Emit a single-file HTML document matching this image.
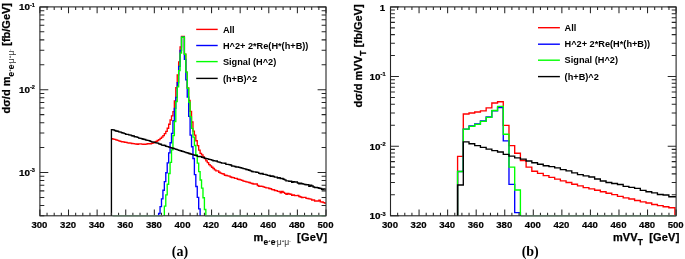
<!DOCTYPE html>
<html lang="en">
<head>
<meta charset="utf-8">
<title>Invariant mass distributions</title>
<style>
html,body{margin:0;padding:0;background:#fff;}
body{width:685px;height:259px;overflow:hidden;}
svg{display:block;}
</style>
</head>
<body>
<svg width="685" height="259" viewBox="0 0 685 259" role="img" aria-label="Invariant mass distributions">
<rect width="685" height="259" fill="#fff"/>
<path d="M111.43 138.79H112.86V139.11H114.29V139.41H115.72V139.93H117.15V140.36H118.58V140.88H120.01V141.33H121.44V141.75H122.87V141.94H124.3V142.28H125.73V142.3H127.16V142.83H128.59V142.98H130.02V143.11H131.45V143.47H132.88V143.56H134.31V143.84H135.74V144.01H137.17V144.21H138.6V143.82H140.03V143.93H141.47V144.17H142.9V144.28H144.33V144.28H145.76V144.1H147.19V143.68H148.62V143.82H150.05V143.77H151.48V143.24H152.91V142.86H154.34V142.17H155.77V141.33H157.2V140.54H158.63V139.66H160.06V138.4H161.49V137.16H162.92V135.67H164.35V133.61H165.78V131.37H167.21V128.28H168.65V124.25H170.08V120.02H171.51V115.87H172.94V111.57H174.37V101H175.8V87.77H177.23V74.83H178.66V61.93H180.09V46.87H181.52V36.3H182.95V36.3H184.38V54.22H185.81V72.13H187.24V87.85H188.67V100.45H190.1V111.41H191.53V122.02H192.96V131.1H194.39V135.06H195.82V140.78H197.26V145.58H198.69V150.16H200.12V153.34H201.55V154.94H202.98V156.97H204.41V158.66H205.84V160.87H207.27V162.62H208.7V164.65H210.13V165.92H211.56V167.22H212.99V168.47H214.42V169.92H215.85V170.83H217.28V170.85H218.71V172.24H220.14V173.09H221.57V173.59H223V174.03H224.43V175.25H225.87V175.51H227.3V175.85H228.73V176.14H230.16V177H231.59V177.51H233.02V177.59H234.45V178.32H235.88V178.33H237.31V179.28H238.74V179.52H240.17V179.89H241.6V180.34H243.03V181.05H244.46V181.44H245.89V181.81H247.32V182.13H248.75V182.54H250.18V183.13H251.61V183.45H253.04V184.02H254.47V184.13H255.91V183.88H257.34V185.47H258.77V186.31H260.2V186.17H261.63V186.43H263.06V186.87H264.49V187.32H265.92V187.82H267.35V187.85H268.78V188.52H270.21V188.76H271.64V189.61H273.07V189.78H274.5V190.47H275.93V190.59H277.36V191.44H278.79V191.51H280.22V192.7H281.65V191.4H283.09V192.3H284.52V193.33H285.95V194.38H287.38V193.53H288.81V194H290.24V194.23H291.67V195.27H293.1V194.88H294.53V195.67H295.96V195.55H297.39V195.45H298.82V196.54H300.25V196.97H301.68V197.69H303.11V197.35H304.54V197.44H305.97V198.36H307.4V198.54H308.83V198.9H310.26V199.06H311.69V200.04H313.13V199.97H314.56V201.11H315.99V201.04H317.42V201.14H318.85V200.25H320.28V201.8H321.71V202.04H323.14V202.59H324.57V203.07H326" fill="none" stroke="#ff0000" stroke-width="1.35" stroke-linejoin="miter" stroke-linecap="butt"/>
<path d="M158.63 215.8V213.46H160.06V206.58H161.49V198.87H162.92V190.29H164.35V181.58H165.78V172.75H167.21V162.86H168.65V152.88H170.08V142.76H171.51V133.39H172.94V120.77H174.37V108.31H175.8V97.44H177.23V82.61H178.66V66.42H180.09V50.37H181.52V37.2H182.95V37.2H184.38V59.41H185.81V79.79H187.24V97.14H188.67V116.34H190.1V135.07H191.53V146.7H192.96V158.5H194.39V174.68H195.82V186.49H197.26V197.34H198.69V208.92H200.12V215.8" fill="none" stroke="#0000ff" stroke-width="1.35" stroke-linejoin="miter" stroke-linecap="butt"/>
<path d="M164.35 215.8V206.15H165.78V194.91H167.21V184.2H168.65V173.49H170.08V162.41H171.51V149.84H172.94V135.49H174.37V121.45H175.8V101.55H177.23V86.84H178.66V70.59H180.09V53.11H181.52V37.2H182.95V37.2H184.38V54.22H185.81V72.13H187.24V88.25H188.67V102.18H190.1V116.94H191.53V128.37H192.96V137.13H194.39V145.47H195.82V154.68H197.26V163.16H198.69V171.6H200.12V179.97H201.55V188.11H202.98V197.7H204.41V209.45H205.84V215.8" fill="none" stroke="#00ff00" stroke-width="1.35" stroke-linejoin="miter" stroke-linecap="butt"/>
<path d="M111.43 215.8V129.79H112.86V129.85H114.29V130.54H115.72V130.97H117.15V131.29H118.58V131.85H120.01V132.05H121.44V132.76H122.87V133.18H124.3V133.58H125.73V134.31H127.16V134.44H128.59V134.83H130.02V135.14H131.45V135.72H132.88V135.97H134.31V136.71H135.74V136.87H137.17V137.41H138.6V138.09H140.03V138.41H141.47V138.71H142.9V139.29H144.33V139.52H145.76V140.07H147.19V140.39H148.62V140.69H150.05V141.3H151.48V141.8H152.91V142.05H154.34V142.39H155.77V142.92H157.2V143.12H158.63V143.82H160.06V144.22H161.49V145.11H162.92V145.2H164.35V145.52H165.78V146.31H167.21V146.62H168.65V147.11H170.08V147.56H171.51V148.02H172.94V148.47H174.37V148.93H175.8V149.39H177.23V149.84H178.66V150.3H180.09V150.75H181.52V151.21H182.95V151.67H184.38V152.12H185.81V152.58H187.24V153.04H188.67V153.49H190.1V153.95H191.53V154.41H192.96V154.86H194.39V155.27H195.82V155.67H197.26V156.35H198.69V156.53H200.12V156.63H201.55V157.21H202.98V157.46H204.41V158.21H205.84V158.69H207.27V158.8H208.7V159.38H210.13V159.64H211.56V160.15H212.99V160.79H214.42V160.81H215.85V161.04H217.28V161.82H218.71V162.18H220.14V162.62H221.57V163.1H223V163.13H224.43V163.24H225.87V164.32H227.3V164.39H228.73V164.6H230.16V165H231.59V165.96H233.02V166.11H234.45V166.53H235.88V167.05H237.31V167.04H238.74V167.3H240.17V167.75H241.6V168.06H243.03V168.67H244.46V168.88H245.89V169.53H247.32V169.76H248.75V170.26H250.18V170.87H251.61V171.5H253.04V171.94H254.47V171.86H255.91V172.28H257.34V172.42H258.77V173.32H260.2V173.88H261.63V173.54H263.06V174.4H264.49V174.4H265.92V174.83H267.35V175.35H268.78V175.52H270.21V176.37H271.64V175.82H273.07V176.48H274.5V177.06H275.93V177.06H277.36V177.97H278.79V177.57H280.22V178.57H281.65V178.31H283.09V179.2H284.52V179.84H285.95V180.92H287.38V180.81H288.81V181.41H290.24V181.09H291.67V182.36H293.1V181.67H294.53V182.02H295.96V181.9H297.39V182.96H298.82V183.71H300.25V183.27H301.68V183.75H303.11V184.06H304.54V184.48H305.97V184.71H307.4V184.69H308.83V186.42H310.26V185.07H311.69V185.96H313.13V186.98H314.56V187.69H315.99V187.41H317.42V187.72H318.85V188.26H320.28V188.45H321.71V189.43H323.14V189.04H324.57V189.12H326" fill="none" stroke="#000000" stroke-width="1.35" stroke-linejoin="miter" stroke-linecap="butt"/>
<path d="M457.59 215.8V156.4H463.3V114H469.01V113H474.72V112H480.43V110.8H486.14V107.9H491.85V103H497.56V101.7H503.27V125.4H508.98V145.6H514.69V153.2H520.4V160.5H526.11V167.1H531.82V171.2H537.53V173.4H543.24V175.6H548.95V177.4H554.66V179.1H560.37V180.8H566.08V182.5H571.79V184.2H577.5V185.9H583.21V187.6H588.92V188.8H594.63V190.2H600.34V191.7H606.05V193.2H611.76V194.6H617.47V196.4H623.18V197.9H628.89V199H634.6V200.5H640.31V201.8H646.02V203H651.73V204.5H657.44V205.6H663.15V206.7H668.86V207.7H674.9V215.8" fill="none" stroke="#ff0000" stroke-width="1.35" stroke-linejoin="miter" stroke-linecap="butt"/>
<path d="M457.59 215.8V171.5H463.3V129.1H469.01V125.9H474.72V123.8H480.43V121H486.14V117H491.85V110.7H497.56V107.5H503.27V140.8H508.98V184.4H514.69V212.6H520.4V215.8" fill="none" stroke="#0000ff" stroke-width="1.35" stroke-linejoin="miter" stroke-linecap="butt"/>
<path d="M457.59 215.8V171.5H463.3V129.1H469.01V126.4H474.72V124.3H480.43V121.4H486.14V117.3H491.85V110.5H497.56V106.4H503.27V134.2H508.98V167.1H514.69V190H520.4V215.8" fill="none" stroke="#00ff00" stroke-width="1.35" stroke-linejoin="miter" stroke-linecap="butt"/>
<path d="M457.59 215.8V185H463.3V141.8H469.01V143.7H474.72V145.6H480.43V147.3H486.14V149.1H491.85V150.6H497.56V152H503.27V154.4H508.98V156.1H514.69V157.9H520.4V159.1H526.11V161H531.82V162.7H537.53V164.2H543.24V165.7H548.95V166.6H554.66V167.8H560.37V169.6H566.08V170.8H571.79V172.8H577.5V174.6H583.21V175.8H588.92V177H594.63V179H600.34V181H606.05V182.5H611.76V183.5H617.47V184.5H623.18V186.4H628.89V187.3H634.6V188.4H640.31V190.4H646.02V191.7H651.73V192.8H657.44V194.5H663.15V195H668.86V196.7H676" fill="none" stroke="#000000" stroke-width="1.35" stroke-linejoin="miter" stroke-linecap="butt"/>
<g stroke="#262626" stroke-width="1.05" fill="none" stroke-linecap="butt">
<rect x="39.9" y="6.9" width="286.1" height="208.9" stroke-width="1.1"/>
<path d="M39.9 215.8v-6.4M39.9 6.9v6.4M47.05 215.8v-3M47.05 6.9v3M54.2 215.8v-3M54.2 6.9v3M61.36 215.8v-3M61.36 6.9v3M68.51 215.8v-6.4M68.51 6.9v6.4M75.66 215.8v-3M75.66 6.9v3M82.81 215.8v-3M82.81 6.9v3M89.97 215.8v-3M89.97 6.9v3M97.12 215.8v-6.4M97.12 6.9v6.4M104.27 215.8v-3M104.27 6.9v3M111.43 215.8v-3M111.43 6.9v3M118.58 215.8v-3M118.58 6.9v3M125.73 215.8v-6.4M125.73 6.9v6.4M132.88 215.8v-3M132.88 6.9v3M140.03 215.8v-3M140.03 6.9v3M147.19 215.8v-3M147.19 6.9v3M154.34 215.8v-6.4M154.34 6.9v6.4M161.49 215.8v-3M161.49 6.9v3M168.65 215.8v-3M168.65 6.9v3M175.8 215.8v-3M175.8 6.9v3M182.95 215.8v-6.4M182.95 6.9v6.4M190.1 215.8v-3M190.1 6.9v3M197.26 215.8v-3M197.26 6.9v3M204.41 215.8v-3M204.41 6.9v3M211.56 215.8v-6.4M211.56 6.9v6.4M218.71 215.8v-3M218.71 6.9v3M225.87 215.8v-3M225.87 6.9v3M233.02 215.8v-3M233.02 6.9v3M240.17 215.8v-6.4M240.17 6.9v6.4M247.32 215.8v-3M247.32 6.9v3M254.47 215.8v-3M254.47 6.9v3M261.63 215.8v-3M261.63 6.9v3M268.78 215.8v-6.4M268.78 6.9v6.4M275.93 215.8v-3M275.93 6.9v3M283.09 215.8v-3M283.09 6.9v3M290.24 215.8v-3M290.24 6.9v3M297.39 215.8v-6.4M297.39 6.9v6.4M304.54 215.8v-3M304.54 6.9v3M311.69 215.8v-3M311.69 6.9v3M318.85 215.8v-3M318.85 6.9v3M326 215.8v-6.4M326 6.9v6.4M39.9 215.8h4.4M326 215.8h-4.4M39.9 205.45h4.4M326 205.45h-4.4M39.9 197.43h4.4M326 197.43h-4.4M39.9 190.87h4.4M326 190.87h-4.4M39.9 185.33h4.4M326 185.33h-4.4M39.9 180.53h4.4M326 180.53h-4.4M39.9 176.29h4.4M326 176.29h-4.4M39.9 172.5h8.4M326 172.5h-8.4M39.9 147.58h4.4M326 147.58h-4.4M39.9 133h4.4M326 133h-4.4M39.9 122.65h4.4M326 122.65h-4.4M39.9 114.63h4.4M326 114.63h-4.4M39.9 108.07h4.4M326 108.07h-4.4M39.9 102.53h4.4M326 102.53h-4.4M39.9 97.73h4.4M326 97.73h-4.4M39.9 93.49h4.4M326 93.49h-4.4M39.9 89.7h8.4M326 89.7h-8.4M39.9 64.78h4.4M326 64.78h-4.4M39.9 50.2h4.4M326 50.2h-4.4M39.9 39.85h4.4M326 39.85h-4.4M39.9 31.83h4.4M326 31.83h-4.4M39.9 25.27h4.4M326 25.27h-4.4M39.9 19.73h4.4M326 19.73h-4.4M39.9 14.92h4.4M326 14.92h-4.4M39.9 10.69h4.4M326 10.69h-4.4M39.9 6.9h8.4M326 6.9h-8.4"/>
</g>
<g stroke="#262626" stroke-width="1.05" fill="none" stroke-linecap="butt">
<rect x="390.5" y="6.9" width="285.6" height="208.9" stroke-width="1.1"/>
<path d="M390.5 215.8v-6.4M390.5 6.9v6.4M397.64 215.8v-3M397.64 6.9v3M404.78 215.8v-3M404.78 6.9v3M411.92 215.8v-3M411.92 6.9v3M419.06 215.8v-6.4M419.06 6.9v6.4M426.2 215.8v-3M426.2 6.9v3M433.34 215.8v-3M433.34 6.9v3M440.48 215.8v-3M440.48 6.9v3M447.62 215.8v-6.4M447.62 6.9v6.4M454.76 215.8v-3M454.76 6.9v3M461.9 215.8v-3M461.9 6.9v3M469.04 215.8v-3M469.04 6.9v3M476.18 215.8v-6.4M476.18 6.9v6.4M483.32 215.8v-3M483.32 6.9v3M490.46 215.8v-3M490.46 6.9v3M497.6 215.8v-3M497.6 6.9v3M504.74 215.8v-6.4M504.74 6.9v6.4M511.88 215.8v-3M511.88 6.9v3M519.02 215.8v-3M519.02 6.9v3M526.16 215.8v-3M526.16 6.9v3M533.3 215.8v-6.4M533.3 6.9v6.4M540.44 215.8v-3M540.44 6.9v3M547.58 215.8v-3M547.58 6.9v3M554.72 215.8v-3M554.72 6.9v3M561.86 215.8v-6.4M561.86 6.9v6.4M569 215.8v-3M569 6.9v3M576.14 215.8v-3M576.14 6.9v3M583.28 215.8v-3M583.28 6.9v3M590.42 215.8v-6.4M590.42 6.9v6.4M597.56 215.8v-3M597.56 6.9v3M604.7 215.8v-3M604.7 6.9v3M611.84 215.8v-3M611.84 6.9v3M618.98 215.8v-6.4M618.98 6.9v6.4M626.12 215.8v-3M626.12 6.9v3M633.26 215.8v-3M633.26 6.9v3M640.4 215.8v-3M640.4 6.9v3M647.54 215.8v-6.4M647.54 6.9v6.4M654.68 215.8v-3M654.68 6.9v3M661.82 215.8v-3M661.82 6.9v3M668.96 215.8v-3M668.96 6.9v3M676.1 215.8v-6.4M676.1 6.9v6.4M390.5 215.8h8.4M676.1 215.8h-8.4M390.5 194.84h4.4M676.1 194.84h-4.4M390.5 182.58h4.4M676.1 182.58h-4.4M390.5 173.88h4.4M676.1 173.88h-4.4M390.5 167.13h4.4M676.1 167.13h-4.4M390.5 161.61h4.4M676.1 161.61h-4.4M390.5 156.95h4.4M676.1 156.95h-4.4M390.5 152.91h4.4M676.1 152.91h-4.4M390.5 149.35h4.4M676.1 149.35h-4.4M390.5 146.17h8.4M676.1 146.17h-8.4M390.5 125.2h4.4M676.1 125.2h-4.4M390.5 112.94h4.4M676.1 112.94h-4.4M390.5 104.24h4.4M676.1 104.24h-4.4M390.5 97.5h4.4M676.1 97.5h-4.4M390.5 91.98h4.4M676.1 91.98h-4.4M390.5 87.32h4.4M676.1 87.32h-4.4M390.5 83.28h4.4M676.1 83.28h-4.4M390.5 79.72h4.4M676.1 79.72h-4.4M390.5 76.53h8.4M676.1 76.53h-8.4M390.5 55.57h4.4M676.1 55.57h-4.4M390.5 43.31h4.4M676.1 43.31h-4.4M390.5 34.61h4.4M676.1 34.61h-4.4M390.5 27.86h4.4M676.1 27.86h-4.4M390.5 22.35h4.4M676.1 22.35h-4.4M390.5 17.69h4.4M676.1 17.69h-4.4M390.5 13.65h4.4M676.1 13.65h-4.4M390.5 10.09h4.4M676.1 10.09h-4.4M390.5 6.9h8.4M676.1 6.9h-8.4"/>
</g>
<path d="M112.5 215.8H163" stroke="#5d7864" stroke-width="1.35" fill="none"/>
<path d="M205 215.8H325.4" stroke="#5d7864" stroke-width="1.35" fill="none"/>
<path d="M521 215.8H675.5" stroke="#5d7864" stroke-width="1.35" fill="none"/>
<g font-family='"Liberation Sans", sans-serif' font-weight="bold" font-size="9.6" text-anchor="middle" fill="#000" stroke="#000" stroke-width="0.2">
<text x="39.45" y="227.75">300</text>
<text x="68.06" y="227.75">320</text>
<text x="96.67" y="227.75">340</text>
<text x="125.28" y="227.75">360</text>
<text x="153.89" y="227.75">380</text>
<text x="182.5" y="227.75">400</text>
<text x="211.11" y="227.75">420</text>
<text x="239.72" y="227.75">440</text>
<text x="268.33" y="227.75">460</text>
<text x="296.94" y="227.75">480</text>
<text x="325.55" y="227.75">500</text>
</g>
<g font-family='"Liberation Sans", sans-serif' font-weight="bold" font-size="9.6" text-anchor="middle" fill="#000" stroke="#000" stroke-width="0.2">
<text x="390.05" y="227.75">300</text>
<text x="418.61" y="227.75">320</text>
<text x="447.17" y="227.75">340</text>
<text x="475.73" y="227.75">360</text>
<text x="504.29" y="227.75">380</text>
<text x="532.85" y="227.75">400</text>
<text x="561.41" y="227.75">420</text>
<text x="589.97" y="227.75">440</text>
<text x="618.53" y="227.75">460</text>
<text x="647.09" y="227.75">480</text>
<text x="675.65" y="227.75">500</text>
</g>
<g font-family='"Liberation Sans", sans-serif' font-weight="bold" fill="#000" stroke="#000" stroke-width="0.2">
<text x="29.9" y="10.45" font-size="9.9" text-anchor="end">10</text>
<text x="30" y="6.6" font-size="5.6" text-anchor="start">-1</text>
<text x="29.9" y="93.25" font-size="9.9" text-anchor="end">10</text>
<text x="30" y="89.4" font-size="5.6" text-anchor="start">-2</text>
<text x="29.9" y="176.05" font-size="9.9" text-anchor="end">10</text>
<text x="30" y="172.2" font-size="5.6" text-anchor="start">-3</text>
<text x="385.1" y="10.7" font-size="9.7" text-anchor="end">1</text>
<text x="380.5" y="80.08" font-size="9.9" text-anchor="end">10</text>
<text x="380.6" y="76.23" font-size="5.6" text-anchor="start">-1</text>
<text x="380.5" y="149.72" font-size="9.9" text-anchor="end">10</text>
<text x="380.6" y="145.87" font-size="5.6" text-anchor="start">-2</text>
<text x="380.5" y="219.35" font-size="9.9" text-anchor="end">10</text>
<text x="380.6" y="215.5" font-size="5.6" text-anchor="start">-3</text>
</g>
<path d="M196.2 29.4H217.7" stroke="#ff0000" stroke-width="1.4" fill="none"/>
<path d="M196.2 45.5H217.7" stroke="#0000ff" stroke-width="1.4" fill="none"/>
<path d="M196.2 61.6H217.7" stroke="#00ff00" stroke-width="1.4" fill="none"/>
<path d="M196.2 78.4H217.7" stroke="#000000" stroke-width="1.4" fill="none"/>
<g font-family='"Liberation Sans", sans-serif' font-weight="bold" font-size="9.2" fill="#000">
<text x="222.9" y="32.7">All</text>
<text x="222.9" y="48.8">H^2+ 2*Re(H*(h+B))</text>
<text x="222.9" y="64.9">Signal (H^2)</text>
<text x="222.9" y="81.7">(h+B)^2</text>
</g>
<path d="M538 27.7H559.9" stroke="#ff0000" stroke-width="1.4" fill="none"/>
<path d="M538 44.2H559.9" stroke="#0000ff" stroke-width="1.4" fill="none"/>
<path d="M538 60.2H559.9" stroke="#00ff00" stroke-width="1.4" fill="none"/>
<path d="M538 76.6H559.9" stroke="#000000" stroke-width="1.4" fill="none"/>
<g font-family='"Liberation Sans", sans-serif' font-weight="bold" font-size="9.2" fill="#000">
<text x="564.6" y="30.6">All</text>
<text x="564.6" y="47.1">H^2+ 2*Re(H*(h+B))</text>
<text x="564.6" y="63.1">Signal (H^2)</text>
<text x="564.6" y="79.5">(h+B)^2</text>
</g>
<text font-family='"Liberation Sans", sans-serif' font-weight="bold" font-size="11" fill="#000" stroke="#000" stroke-width="0.25" x="253.6" y="240.9">m<tspan dy="4" font-size="8.4" stroke-width="0.1">e</tspan><tspan dy="-2.9" font-size="4.4" stroke="none" fill="#222">+</tspan><tspan dy="2.9" font-size="8.4" stroke-width="0.1">e</tspan><tspan dy="-2.9" font-size="4.4" stroke="none" fill="#222">-</tspan><tspan dy="2.9" font-size="8.6" font-weight="normal" stroke="none" fill="#333">μ</tspan><tspan dy="-2.9" font-size="4.4" stroke="none" fill="#222">+</tspan><tspan dy="2.9" font-size="8.6" font-weight="normal" stroke="none" fill="#333">μ</tspan><tspan dy="-2.9" font-size="4.4" stroke="none" fill="#222">-</tspan><tspan dy="-1.1" font-size="11"> </tspan><tspan dx="3.3" letter-spacing="0.2">[GeV]</tspan></text>
<text font-family='"Liberation Sans", sans-serif' font-weight="bold" font-size="11" fill="#000" stroke="#000" stroke-width="0.25" x="613.1" y="241.2">mVV<tspan dy="3.8" dx="0.3" font-size="8.4">T</tspan><tspan dy="-3.8" dx="6.2" letter-spacing="0.2">[GeV]</tspan></text>
<text font-family='"Liberation Sans", sans-serif' font-weight="bold" font-size="11" fill="#000" stroke="#000" stroke-width="0.25" transform="translate(9.7 113.4) rotate(-90)">dσ/d m<tspan dy="4" font-size="8.4" stroke-width="0.1">e</tspan><tspan dy="-2.9" font-size="4.4" stroke="none" fill="#222">+</tspan><tspan dy="2.9" font-size="8.4" stroke-width="0.1">e</tspan><tspan dy="-2.9" font-size="4.4" stroke="none" fill="#222">-</tspan><tspan dy="2.9" font-size="8.6" font-weight="normal" stroke="none" fill="#333">μ</tspan><tspan dy="-2.9" font-size="4.4" stroke="none" fill="#222">+</tspan><tspan dy="2.9" font-size="8.6" font-weight="normal" stroke="none" fill="#333">μ</tspan><tspan dy="-2.9" font-size="4.4" stroke="none" fill="#222">-</tspan><tspan dy="-1.1" font-size="11"> </tspan><tspan dx="0.4">[fb/GeV]</tspan></text>
<text font-family='"Liberation Sans", sans-serif' font-weight="bold" font-size="11" fill="#000" stroke="#000" stroke-width="0.25" transform="translate(361.7 107.5) rotate(-90)">dσ/d mVV<tspan dy="3.8" dx="0.3" font-size="8.4">T</tspan><tspan dy="-3.8" dx="3.4">[fb/GeV]</tspan></text>
<text font-family='"Liberation Serif", serif' font-weight="bold" font-size="14" text-anchor="middle" x="179.9" y="255.65">(a)</text>
<text font-family='"Liberation Serif", serif' font-weight="bold" font-size="14" text-anchor="middle" x="530.2" y="255.75">(b)</text>
</svg>
</body>
</html>
